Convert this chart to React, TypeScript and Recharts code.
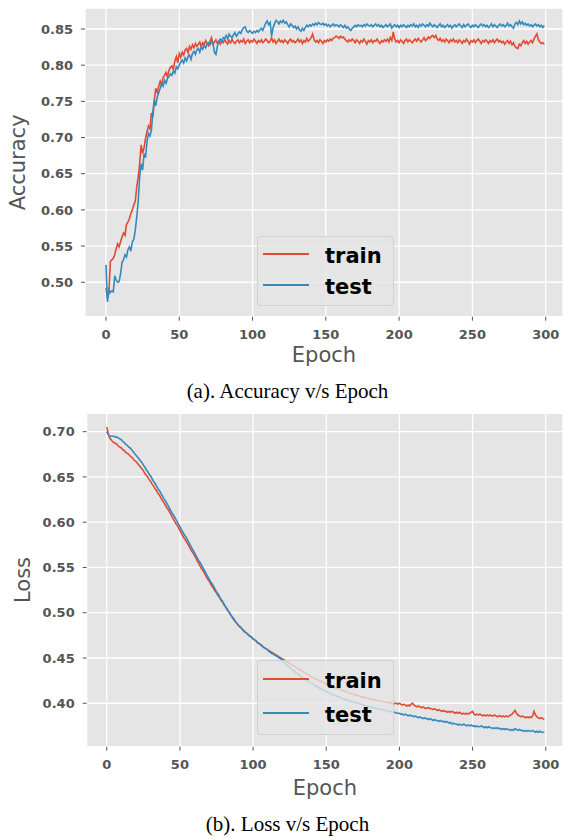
import { LineChart, Line, XAxis, YAxis, CartesianGrid, Legend } from 'recharts';

// accuracy per epoch
const trainAcc = [
  0.492, 0.479, 0.484, 0.529, 0.531, 0.533, 0.538, 0.547, 0.553, 0.549,
  0.556, 0.563, 0.568, 0.565, 0.580, 0.583, 0.588, 0.595, 0.600, 0.607,
  0.612, 0.632, 0.645, 0.664, 0.690, 0.678, 0.686, 0.699, 0.708, 0.716,
  0.712, 0.734, 0.728, 0.752, 0.768, 0.762, 0.771, 0.778, 0.773, 0.783,
  0.786, 0.790, 0.784, 0.793, 0.797, 0.799, 0.794, 0.806, 0.812, 0.803,
  0.816, 0.811, 0.818, 0.814, 0.821, 0.823, 0.817, 0.826, 0.822, 0.828,
  0.824, 0.830, 0.826, 0.829, 0.832, 0.825, 0.831, 0.828, 0.834, 0.830,
  0.827, 0.833, 0.838, 0.829, 0.832, 0.835, 0.830, 0.833, 0.829, 0.834,
  0.831, 0.835, 0.832, 0.829, 0.834, 0.831, 0.836, 0.832, 0.830, 0.833,
  0.835, 0.831, 0.834, 0.832, 0.836, 0.830, 0.833, 0.835, 0.831, 0.834,
  0.832, 0.836, 0.833, 0.830, 0.834, 0.832, 0.835, 0.831, 0.833, 0.836,
  0.834, 0.831, 0.833, 0.838, 0.832, 0.835, 0.830, 0.833, 0.836, 0.832,
  0.834, 0.831, 0.835, 0.833, 0.830, 0.834, 0.836, 0.832, 0.834, 0.831,
  0.833, 0.836, 0.832, 0.835, 0.830, 0.834, 0.832, 0.837, 0.833, 0.835,
  0.838, 0.843, 0.835, 0.832, 0.834, 0.831, 0.835, 0.833, 0.830, 0.834,
  0.832, 0.835, 0.833, 0.836, 0.834, 0.837, 0.838, 0.840, 0.839, 0.837,
  0.840, 0.838, 0.839, 0.836, 0.834, 0.832, 0.835, 0.833, 0.836, 0.834,
  0.831, 0.835, 0.833, 0.830, 0.834, 0.832, 0.836, 0.833, 0.829, 0.834,
  0.832, 0.835, 0.831, 0.834, 0.833, 0.836, 0.832, 0.830, 0.834, 0.832,
  0.835, 0.833, 0.836, 0.832, 0.838, 0.834, 0.846, 0.836, 0.832, 0.834,
  0.831, 0.835, 0.833, 0.830, 0.834, 0.836, 0.832, 0.835, 0.833, 0.831,
  0.834, 0.836, 0.833, 0.837, 0.834, 0.832, 0.835, 0.838, 0.834, 0.836,
  0.839, 0.837, 0.840, 0.841, 0.838, 0.841, 0.836, 0.834, 0.837, 0.833,
  0.835, 0.832, 0.836, 0.834, 0.831, 0.835, 0.833, 0.836, 0.832, 0.834,
  0.831, 0.835, 0.833, 0.830, 0.834, 0.832, 0.836, 0.833, 0.829, 0.834,
  0.832, 0.835, 0.831, 0.834, 0.836, 0.833, 0.830, 0.834, 0.832, 0.835,
  0.833, 0.830, 0.834, 0.832, 0.835, 0.831, 0.834, 0.836, 0.832, 0.834,
  0.831, 0.833, 0.829, 0.832, 0.834, 0.830, 0.833, 0.828, 0.831, 0.826,
  0.824, 0.823, 0.829, 0.827, 0.831, 0.834, 0.830, 0.833, 0.829, 0.832,
  0.834, 0.831, 0.836, 0.840, 0.843, 0.835, 0.832, 0.830, 0.831, 0.829,
];

const testAcc = [
  0.524, 0.473, 0.490, 0.486, 0.488, 0.487, 0.509, 0.503, 0.500, 0.501,
  0.512, 0.528, 0.531, 0.538, 0.535, 0.545, 0.549, 0.543, 0.556, 0.559,
  0.572, 0.590, 0.612, 0.646, 0.664, 0.655, 0.678, 0.672, 0.694, 0.706,
  0.702, 0.710, 0.735, 0.752, 0.744, 0.756, 0.762, 0.768, 0.775, 0.771,
  0.779, 0.775, 0.782, 0.784, 0.788, 0.786, 0.792, 0.789, 0.798, 0.795,
  0.800, 0.804, 0.807, 0.803, 0.810, 0.806, 0.812, 0.814, 0.808, 0.816,
  0.819, 0.815, 0.821, 0.823, 0.818, 0.825, 0.822, 0.827, 0.824, 0.829,
  0.831, 0.828, 0.833, 0.830, 0.818, 0.815, 0.826, 0.834, 0.836, 0.832,
  0.838, 0.837, 0.841, 0.836, 0.843, 0.840, 0.838, 0.842, 0.845, 0.840,
  0.843, 0.846, 0.844, 0.849, 0.852, 0.853, 0.847, 0.845, 0.848, 0.846,
  0.844, 0.847, 0.845, 0.848, 0.846, 0.849, 0.851, 0.848, 0.853, 0.858,
  0.861, 0.856, 0.859, 0.840, 0.852, 0.857, 0.862, 0.860, 0.857, 0.861,
  0.859, 0.862, 0.858, 0.860, 0.856, 0.853, 0.857, 0.855, 0.852, 0.854,
  0.850, 0.853, 0.849, 0.847, 0.851, 0.848, 0.852, 0.855, 0.853, 0.856,
  0.854, 0.857, 0.855, 0.858, 0.856, 0.859, 0.857, 0.856, 0.858, 0.855,
  0.857, 0.854, 0.856, 0.853, 0.855, 0.857, 0.854, 0.856, 0.855, 0.853,
  0.856, 0.854, 0.852, 0.855, 0.851, 0.853, 0.850, 0.848, 0.851, 0.853,
  0.855, 0.853, 0.856, 0.854, 0.855, 0.853, 0.856, 0.854, 0.857, 0.855,
  0.854, 0.856, 0.853, 0.855, 0.857, 0.854, 0.856, 0.853, 0.855, 0.852,
  0.854, 0.856, 0.853, 0.855, 0.857, 0.851, 0.854, 0.856, 0.853, 0.855,
  0.852, 0.855, 0.853, 0.856, 0.854, 0.852, 0.855, 0.853, 0.856, 0.854,
  0.857, 0.853, 0.855, 0.852, 0.856, 0.854, 0.857, 0.855, 0.853, 0.856,
  0.854, 0.858, 0.855, 0.853, 0.856, 0.854, 0.852, 0.855, 0.857, 0.853,
  0.855, 0.852, 0.854, 0.856, 0.853, 0.855, 0.851, 0.854, 0.856, 0.853,
  0.855, 0.857, 0.854, 0.852, 0.856, 0.853, 0.855, 0.857, 0.854, 0.852,
  0.855, 0.853, 0.856, 0.854, 0.852, 0.855, 0.857, 0.854, 0.856, 0.853,
  0.855, 0.852, 0.854, 0.857, 0.853, 0.856, 0.854, 0.852, 0.855, 0.857,
  0.854, 0.856, 0.853, 0.855, 0.858, 0.854, 0.856, 0.853, 0.851, 0.857,
  0.859, 0.856, 0.861, 0.857, 0.860, 0.856, 0.858, 0.855, 0.857, 0.854,
  0.856, 0.853, 0.855, 0.857, 0.854, 0.856, 0.853, 0.855, 0.852, 0.855,
];

// loss per epoch
const trainLoss = [
  0.705, 0.698, 0.693, 0.691, 0.689, 0.688, 0.687, 0.686, 0.684, 0.683,
  0.682, 0.680, 0.679, 0.677, 0.676, 0.675, 0.673, 0.672, 0.670, 0.668,
  0.667, 0.665, 0.663, 0.661, 0.659, 0.657, 0.654, 0.652, 0.650, 0.647,
  0.645, 0.642, 0.640, 0.637, 0.635, 0.632, 0.630, 0.627, 0.624, 0.622,
  0.619, 0.616, 0.614, 0.611, 0.608, 0.605, 0.602, 0.599, 0.597, 0.594,
  0.591, 0.588, 0.585, 0.582, 0.580, 0.577, 0.574, 0.571, 0.568, 0.566,
  0.563, 0.560, 0.557, 0.554, 0.551, 0.548, 0.546, 0.543, 0.540, 0.537,
  0.535, 0.532, 0.529, 0.527, 0.524, 0.522, 0.519, 0.517, 0.514, 0.512,
  0.509, 0.507, 0.504, 0.502, 0.499, 0.497, 0.494, 0.492, 0.490, 0.488,
  0.486, 0.484, 0.483, 0.481, 0.479, 0.478, 0.477, 0.475, 0.474, 0.473,
  0.471, 0.470, 0.469, 0.467, 0.466, 0.465, 0.464, 0.462, 0.461, 0.460,
  0.459, 0.458, 0.457, 0.456, 0.455, 0.454, 0.453, 0.452, 0.451, 0.450,
  0.449, 0.448, 0.447, 0.446, 0.445, 0.444, 0.443, 0.442, 0.441, 0.440,
  0.439, 0.438, 0.437, 0.436, 0.435, 0.434, 0.433, 0.432, 0.431, 0.430,
  0.429, 0.428, 0.427, 0.427, 0.426, 0.425, 0.424, 0.424, 0.423, 0.422,
  0.421, 0.421, 0.420, 0.419, 0.419, 0.418, 0.417, 0.417, 0.416, 0.416,
  0.415, 0.414, 0.414, 0.413, 0.413, 0.412, 0.411, 0.411, 0.410, 0.410,
  0.409, 0.409, 0.408, 0.408, 0.407, 0.407, 0.406, 0.406, 0.406, 0.405,
  0.405, 0.404, 0.404, 0.404, 0.403, 0.403, 0.403, 0.402, 0.402, 0.402,
  0.401, 0.401, 0.401, 0.400, 0.401, 0.400, 0.399, 0.400, 0.400, 0.399,
  0.400, 0.399, 0.398, 0.399, 0.398, 0.397, 0.398, 0.397, 0.399, 0.400,
  0.398, 0.397, 0.396, 0.397, 0.396, 0.395, 0.396, 0.395, 0.394, 0.395,
  0.395, 0.394, 0.394, 0.393, 0.394, 0.393, 0.392, 0.393, 0.392, 0.391,
  0.392, 0.391, 0.391, 0.390, 0.391, 0.390, 0.391, 0.390, 0.389, 0.390,
  0.389, 0.390, 0.389, 0.388, 0.389, 0.388, 0.389, 0.388, 0.389, 0.390,
  0.391, 0.388, 0.387, 0.388, 0.387, 0.388, 0.387, 0.386, 0.387, 0.386,
  0.387, 0.386, 0.387, 0.386, 0.386, 0.387, 0.386, 0.385, 0.386, 0.386,
  0.385, 0.386, 0.385, 0.386, 0.385, 0.386, 0.387, 0.388, 0.390, 0.392,
  0.389, 0.387, 0.386, 0.385, 0.386, 0.385, 0.384, 0.385, 0.384, 0.385,
  0.384, 0.386, 0.391, 0.387, 0.385, 0.384, 0.383, 0.384, 0.383, 0.382,
];

const testLoss = [
  0.700, 0.697, 0.695, 0.695, 0.695, 0.695, 0.694, 0.694, 0.693, 0.692,
  0.691, 0.689, 0.688, 0.686, 0.685, 0.683, 0.682, 0.680, 0.678, 0.676,
  0.674, 0.672, 0.670, 0.668, 0.666, 0.663, 0.661, 0.658, 0.656, 0.653,
  0.651, 0.648, 0.645, 0.643, 0.640, 0.637, 0.635, 0.632, 0.629, 0.626,
  0.624, 0.621, 0.618, 0.615, 0.612, 0.609, 0.607, 0.604, 0.601, 0.598,
  0.595, 0.592, 0.589, 0.586, 0.584, 0.581, 0.578, 0.575, 0.572, 0.569,
  0.566, 0.563, 0.560, 0.557, 0.555, 0.552, 0.549, 0.546, 0.543, 0.540,
  0.537, 0.534, 0.532, 0.529, 0.526, 0.523, 0.521, 0.518, 0.515, 0.513,
  0.510, 0.507, 0.505, 0.502, 0.500, 0.497, 0.495, 0.493, 0.490, 0.488,
  0.486, 0.485, 0.483, 0.481, 0.480, 0.478, 0.477, 0.475, 0.474, 0.473,
  0.471, 0.470, 0.469, 0.467, 0.466, 0.465, 0.463, 0.462, 0.461, 0.460,
  0.459, 0.457, 0.456, 0.455, 0.454, 0.453, 0.452, 0.451, 0.450, 0.449,
  0.447, 0.445, 0.444, 0.442, 0.441, 0.440, 0.438, 0.437, 0.436, 0.434,
  0.433, 0.432, 0.431, 0.429, 0.428, 0.427, 0.426, 0.425, 0.424, 0.423,
  0.422, 0.421, 0.420, 0.419, 0.418, 0.417, 0.416, 0.415, 0.415, 0.414,
  0.413, 0.412, 0.411, 0.411, 0.410, 0.409, 0.409, 0.408, 0.407, 0.407,
  0.406, 0.405, 0.405, 0.404, 0.404, 0.403, 0.403, 0.402, 0.402, 0.401,
  0.401, 0.400, 0.400, 0.399, 0.399, 0.398, 0.398, 0.397, 0.397, 0.396,
  0.396, 0.396, 0.395, 0.395, 0.394, 0.394, 0.394, 0.393, 0.393, 0.393,
  0.392, 0.392, 0.391, 0.391, 0.391, 0.390, 0.390, 0.390, 0.389, 0.389,
  0.389, 0.388, 0.388, 0.387, 0.388, 0.387, 0.386, 0.387, 0.386, 0.386,
  0.385, 0.386, 0.385, 0.384, 0.385, 0.384, 0.383, 0.384, 0.383, 0.383,
  0.382, 0.383, 0.382, 0.381, 0.382, 0.381, 0.381, 0.380, 0.381, 0.380,
  0.380, 0.379, 0.380, 0.379, 0.378, 0.379, 0.377, 0.378, 0.377, 0.377,
  0.376, 0.377, 0.376, 0.376, 0.377, 0.376, 0.375, 0.376, 0.375, 0.376,
  0.375, 0.375, 0.374, 0.375, 0.374, 0.374, 0.375, 0.374, 0.373, 0.374,
  0.373, 0.374, 0.373, 0.373, 0.372, 0.373, 0.372, 0.373, 0.372, 0.372,
  0.371, 0.372, 0.371, 0.372, 0.371, 0.371, 0.370, 0.371, 0.370, 0.372,
  0.371, 0.370, 0.371, 0.370, 0.370, 0.369, 0.370, 0.369, 0.370, 0.369,
  0.369, 0.370, 0.369, 0.368, 0.369, 0.368, 0.369, 0.368, 0.368, 0.368,
];

const epochTicks = [0, 50, 100, 150, 200, 250, 300];
const accTicks = [0.5, 0.55, 0.6, 0.65, 0.7, 0.75, 0.8, 0.85];
const lossTicks = [0.4, 0.45, 0.5, 0.55, 0.6, 0.65, 0.7];
const seriesNames = ['train', 'test'];
const seriesColors = ['#E24A33', '#348ABD'];

const accRows = trainAcc.map((v, i) => ({ epoch: i, train: v, test: testAcc[i] }));
const lossRows = trainLoss.map((v, i) => ({ epoch: i, train: v, test: testLoss[i] }));

const FONT = '"DejaVu Sans", "Liberation Sans", sans-serif';
const TICK = { fill: '#555555', fontSize: 13, fontWeight: 'bold', fontFamily: FONT };

function LegendBox({ height, lines }: { height: number; lines: number[] }) {
  return (
    <div
      style={{
        position: 'relative',
        width: 137,
        height,
        boxSizing: 'border-box',
        background: 'rgba(229,229,229,0.8)',
        border: '1px solid rgba(204,204,204,0.8)',
        borderRadius: 4,
      }}
    >
      {seriesNames.map((name, i) => (
        <div key={name}>
          <div
            style={{
              position: 'absolute',
              left: 5,
              top: lines[i] - 1,
              width: 46,
              height: 2,
              background: seriesColors[i],
            }}
          />
          <div
            style={{
              position: 'absolute',
              left: 67,
              top: lines[i] - 8.5,
              fontFamily: FONT,
              fontSize: 21,
              lineHeight: '21px',
              fontWeight: 'bold',
              color: '#000',
              whiteSpace: 'nowrap',
            }}
          >
            {name}
          </div>
        </div>
      ))}
    </div>
  );
}

interface PanelProps {
  rows: { epoch: number; train: number; test: number }[];
  top: number;
  height: number;
  plotTop: number;
  plotLeft: number;
  xAxisHeight: number;
  xDomain: [number, number];
  yDomain: [number, number];
  yTicks: number[];
  yLabel: string;
  yLabelX: number;
  xLabelY: number;
  legend: { left: number; top: number; height: number; lines: number[] };
}

function Panel(p: PanelProps) {
  return (
    <div style={{ position: 'absolute', left: 0, top: p.top }}>
      <LineChart
        width={563}
        height={p.height}
        data={p.rows}
        margin={{ top: p.plotTop, right: 0, bottom: 0, left: 0 }}
        style={{ fontFamily: FONT }}
      >
        <CartesianGrid fill="#E5E5E5" fillOpacity={1} stroke="#FFFFFF" strokeWidth={1.3} />
        <XAxis
          dataKey="epoch"
          type="number"
          domain={p.xDomain}
          ticks={epochTicks}
          allowDataOverflow
          interval={0}
          height={p.xAxisHeight}
          axisLine={false}
          tickLine={{ stroke: '#555555' }}
          tickSize={4}
          tickMargin={9}
          tick={TICK}
          label={{
            content: (lp: any) => {
              const vb = lp.viewBox || { x: 0, width: 0 };
              return (
                <text
                  x={vb.x + vb.width / 2}
                  y={p.xLabelY}
                  textAnchor="middle"
                  fill="#555555"
                  fontSize={21}
                  fontFamily={FONT}
                >
                  Epoch
                </text>
              );
            },
          }}
        />
        <YAxis
          type="number"
          domain={p.yDomain}
          ticks={p.yTicks}
          allowDataOverflow
          interval={0}
          width={p.plotLeft}
          axisLine={false}
          tickLine={{ stroke: '#555555' }}
          tickSize={4}
          tickMargin={8}
          tick={TICK}
          tickFormatter={(v: number) => v.toFixed(2)}
          label={{
            content: (lp: any) => {
              const vb = lp.viewBox || { y: 0, height: 0 };
              const cy = vb.y + vb.height / 2;
              return (
                <text
                  transform={`translate(${p.yLabelX}, ${cy}) rotate(-90)`}
                  textAnchor="middle"
                  fill="#555555"
                  fontSize={21}
                  fontFamily={FONT}
                >
                  {p.yLabel}
                </text>
              );
            },
          }}
        />
        <Legend
          layout="horizontal"
          verticalAlign="middle"
          align="center"
          wrapperStyle={{ left: p.legend.left, top: p.legend.top, width: 137, height: p.legend.height }}
          content={() => <LegendBox height={p.legend.height} lines={p.legend.lines} />}
        />
        <Line
          dataKey="train"
          name="train"
          type="linear"
          stroke={seriesColors[0]}
          strokeWidth={1.6}
          dot={false}
          activeDot={false}
          isAnimationActive={false}
        />
        <Line
          dataKey="test"
          name="test"
          type="linear"
          stroke={seriesColors[1]}
          strokeWidth={1.6}
          dot={false}
          activeDot={false}
          isAnimationActive={false}
        />
      </LineChart>
    </div>
  );
}

const captionStyle = {
  position: 'absolute' as const,
  left: 0,
  width: 575,
  textAlign: 'center' as const,
  fontFamily: '"Liberation Serif", "Times New Roman", serif',
  fontSize: 21,
  lineHeight: '21px',
  color: '#000',
};

export default function App() {
  return (
    <div style={{ position: 'absolute', left: 0, top: 0, width: 563, height: 839, background: '#fff', overflow: 'hidden' }}>
      <Panel
        rows={accRows}
        top={0}
        height={380}
        plotTop={8}
        plotLeft={85}
        xAxisHeight={63.3}
        xDomain={[-14.3, 311.8]}
        yDomain={[0.4524, 0.879]}
        yTicks={accTicks}
        yLabel="Accuracy"
        yLabelX={25}
        xLabelY={362.3}
        legend={{ left: 257, top: 236, height: 70, lines: [17, 48.3] }}
      />
      <div style={{ ...captionStyle, top: 381.4 }}>(a). Accuracy v/s Epoch</div>
      <Panel
        rows={lossRows}
        top={400}
        height={410}
        plotTop={13.3}
        plotLeft={86.7}
        xAxisHeight={63.3}
        xDomain={[-13.7, 311.8]}
        yDomain={[0.352, 0.7203]}
        yTicks={lossTicks}
        yLabel="Loss"
        yLabelX={30}
        xLabelY={395.3}
        legend={{ left: 257, top: 260, height: 75, lines: [18, 52.3] }}
      />
      <div style={{ ...captionStyle, top: 813.6 }}>(b). Loss v/s Epoch</div>
    </div>
  );
}
